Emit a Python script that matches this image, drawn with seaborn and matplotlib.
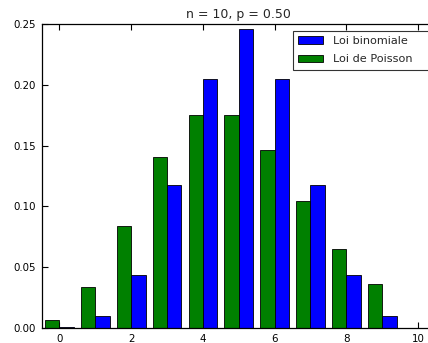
import matplotlib
matplotlib.use("Agg")
import matplotlib.pyplot as plt
import seaborn as sns
import pandas as pd
from matplotlib.patches import Patch

k_values = [0, 1, 2, 3, 4, 5, 6, 7, 8, 9]
binomiale = [0.0010, 0.0098, 0.0439, 0.1172, 0.2051, 0.2461, 0.2051, 0.1172, 0.0439, 0.0098]
poisson = [0.0067, 0.0337, 0.0842, 0.1404, 0.1755, 0.1755, 0.1462, 0.1044, 0.0653, 0.0363]
series_names = ["Loi binomiale", "Loi de Poisson"]
title = "n = 10, p = 0.50"
x_ticks = [0, 2, 4, 6, 8, 10]
y_ticks = [0.00, 0.05, 0.10, 0.15, 0.20, 0.25]

sns.set_style("ticks")
plt.rcParams['font.family'] = ['DejaVu Sans']

df = pd.DataFrame({
    "k": k_values * 2,
    "p": poisson + binomiale,
    "loi": [series_names[1]] * len(k_values) + [series_names[0]] * len(k_values),
})

colors = {series_names[0]: (0, 0, 1), series_names[1]: (0, 0.5, 0)}

fig = plt.figure(figsize=(4.28, 3.43), dpi=100)
W, H = 428, 343
ax_left, ax_right, ax_top, ax_bottom = 41.5, 436, 24, 328
ax = fig.add_axes([ax_left / W, (H - ax_bottom) / H,
                   (ax_right - ax_left) / W, (ax_bottom - ax_top) / H])

sns.barplot(data=df, x="k", y="p", hue="loi",
            hue_order=[series_names[1], series_names[0]],
            palette=colors, saturation=1, width=0.8, gap=0,
            edgecolor="black", linewidth=0.6, errorbar=None,
            legend=False, ax=ax)

ax.set_xlim(-0.5, 10.5)
ax.set_ylim(0, 0.25)
ax.set_xticks(x_ticks)
ax.set_xticklabels([str(t) for t in x_ticks])
ax.set_yticks(y_ticks)
ax.set_yticklabels([f"{t:.2f}" for t in y_ticks])
ax.set_xlabel("")
ax.set_ylabel("")
ax.tick_params(direction="in", length=4, width=0.8, top=True, right=True,
               labelsize=7.4, colors="black", pad=4)
for s in ax.spines.values():
    s.set_visible(True)
    s.set_color("black")
    s.set_linewidth(0.9)

ax.set_title(title, fontsize=9, pad=4)

# legend frame: left at 293 px, top at 31 px, extending past the right edge
lx0 = (293 - ax_left) / (ax_right - ax_left)
lw = (450 - 293) / (ax_right - ax_left)
ly_top = (ax_bottom - 31) / (ax_bottom - ax_top)
handles = [Patch(facecolor=colors[n], edgecolor="black", linewidth=0.6) for n in series_names]
leg = ax.legend(handles, series_names, loc="upper left",
                bbox_to_anchor=(lx0, ly_top - 0.2, lw, 0.2), mode="expand",
                borderaxespad=0, fontsize=8.1, fancybox=False, frameon=True,
                handlelength=2.2, handleheight=0.62, borderpad=0.45,
                labelspacing=0.75, handletextpad=0.9)
leg.get_frame().set_edgecolor("black")
leg.get_frame().set_linewidth(0.8)

fig.savefig("out.png", dpi=100)
